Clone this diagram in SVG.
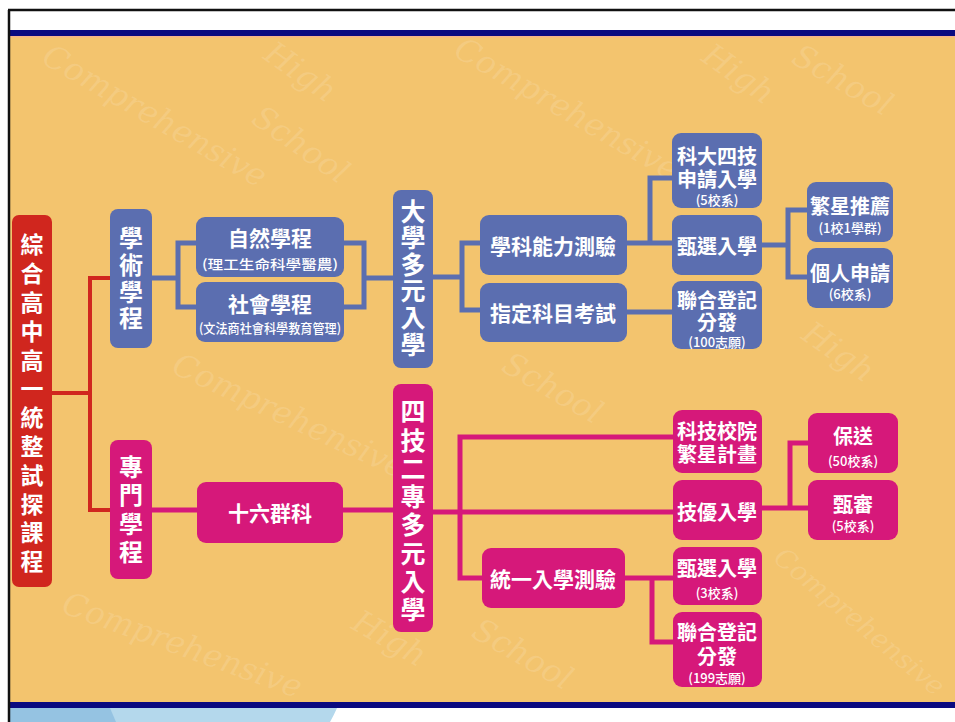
<svg xmlns="http://www.w3.org/2000/svg" width="955" height="722" viewBox="0 0 955 722">
<style>
.b{fill:#5B6EB0}
.m{fill:#D6187A}
.r{fill:#D0261E}
.t{font-family:"Noto Sans CJK TC","Noto Sans CJK SC",sans-serif;fill:#fff;font-weight:700;text-anchor:middle;dominant-baseline:central}
.vt{font-family:"Noto Sans CJK TC","Noto Sans CJK SC",sans-serif;fill:#fff;font-weight:700;text-anchor:middle;writing-mode:vertical-rl}
.h{font-size:21px}
.s{font-size:13px;font-weight:500}
.cb{stroke:#5B6EB0;stroke-width:5;fill:none}
.cm{stroke:#D6187A;stroke-width:5;fill:none}
.cr{stroke:#D0261E;stroke-width:4;fill:none}
.wm{font-family:"DejaVu Serif",serif;font-style:italic;font-size:32px;fill:#fff;fill-opacity:0.13}
</style>
<rect width="955" height="722" fill="#fff"/>
<rect x="10" y="37" width="945" height="665" fill="#F3C46E"/>
<g id="watermark" class="wm">
<text transform="translate(40,62) rotate(30)">Comprehensive</text>
<text transform="translate(262,58) rotate(35)">High</text>
<text transform="translate(250,122) rotate(35)">School</text>
<text transform="translate(452,55) rotate(30)">Comprehensive</text>
<text transform="translate(700,60) rotate(35)">High</text>
<text transform="translate(790,62) rotate(30)">School</text>
<text transform="translate(170,372) rotate(25)">Comprehensive</text>
<text transform="translate(500,370) rotate(30)">School</text>
<text transform="translate(800,338) rotate(35)">High</text>
<text transform="translate(60,612) rotate(20)">Comprehensive</text>
<text transform="translate(350,628) rotate(30)">High</text>
<text transform="translate(470,636) rotate(30)">School</text>
<text transform="translate(772,560) rotate(40)" font-size="27">Comprehensive</text>
</g>
<rect x="10" y="30" width="945" height="6" fill="#0A0A80"/>
<rect x="10" y="36" width="945" height="1.5" fill="#F6B48A"/>
<rect x="10" y="702" width="945" height="6" fill="#0A0A80"/>
<path d="M10,708 H337 Q334,715 330,722 H10 Z" fill="#B4D8EC"/>
<path d="M10,708 H110 Q113,715 116,722 H10 Z" fill="#95C3E2"/>
<path d="M8,10 H955 M9,10 V722" stroke="#111" stroke-width="2.5" fill="none"/>

<g id="connectors">
<path class="cr" d="M52,393 H90 M110,278 H90 V510 H110"/>
<path class="cb" d="M152,278 H178 M196,243 H178 V307 H196"/>
<path class="cb" d="M344,243 H364 V307 H344 M364,278 H393"/>
<path class="cb" d="M433,277 H462 M480,243 H462 V310 H480"/>
<path class="cb" d="M627,243 H672 M672,178 H650 V243"/>
<path class="cb" d="M627,312 H672"/>
<path class="cb" d="M762,245 H788 M807,210 H788 V277 H807"/>
<path class="cm" d="M152,510 H197 M343,510 H393"/>
<path class="cm" d="M433,512 H673 M673,437 H460 V578 H482"/>
<path class="cm" d="M625,578 H673 M652,578 V642 H673"/>
<path class="cm" d="M762,508 H808 M808,443 H790 V508"/>
</g>

<g id="root">
<rect class="r" x="12" y="215" width="40" height="372" rx="7"/>
<text class="vt" x="32" y="406" font-size="23" letter-spacing="5.8">綜合高中高一統整試探課程</text>
</g>

<g id="academic">
<rect class="b" x="110" y="209" width="42" height="139" rx="8"/>
<text class="vt" x="131" y="279.5" font-size="24" letter-spacing="2.7">學術學程</text>
</g>
<g id="natural">
<rect class="b" x="196" y="217" width="148" height="60" rx="9"/>
<text class="t h" x="270" y="237">自然學程</text>
<text class="t s" x="270" y="263" textLength="136" lengthAdjust="spacingAndGlyphs">(理工生命科學醫農)</text>
</g>
<g id="social">
<rect class="b" x="196" y="282" width="148" height="60" rx="9"/>
<text class="t h" x="270" y="303">社會學程</text>
<text class="t s" x="270" y="327" textLength="142" lengthAdjust="spacingAndGlyphs">(文法商社會科學教育管理)</text>
</g>
<g id="univ">
<rect class="b" x="393" y="190" width="40" height="178" rx="8"/>
<text class="vt" x="413" y="278.5" font-size="25" letter-spacing="1.6">大學多元入學</text>
</g>
<g id="gsat">
<rect class="b" x="480" y="215" width="147" height="60" rx="9"/>
<text class="t h" x="553" y="245">學科能力測驗</text>
</g>
<g id="ast">
<rect class="b" x="480" y="283" width="147" height="59" rx="9"/>
<text class="t h" x="553" y="312">指定科目考試</text>
</g>
<g id="tech-apply">
<rect class="b" x="672" y="133" width="90" height="75" rx="9"/>
<text class="t" font-size="20"><tspan x="717" y="155">科大四技</tspan><tspan x="717" y="178">申請入學</tspan></text>
<text class="t s" x="717" y="199">(5校系)</text>
</g>
<g id="select">
<rect class="b" x="672" y="215" width="90" height="60" rx="9"/>
<text class="t" font-size="20" x="717" y="245">甄選入學</text>
</g>
<g id="joint100">
<rect class="b" x="672" y="281" width="90" height="68" rx="9"/>
<text class="t" font-size="20"><tspan x="717" y="299">聯合登記</tspan><tspan x="717" y="321">分發</tspan></text>
<text class="t s" x="717" y="341">(100志願)</text>
</g>
<g id="star">
<rect class="b" x="807" y="182" width="86" height="60" rx="9"/>
<text class="t" font-size="20" x="850" y="205">繁星推薦</text>
<text class="t s" x="850" y="227">(1校1學群)</text>
</g>
<g id="personal">
<rect class="b" x="807" y="248" width="86" height="60" rx="9"/>
<text class="t" font-size="20" x="850" y="272">個人申請</text>
<text class="t s" x="850" y="293">(6校系)</text>
</g>

<g id="vocational">
<rect class="m" x="110" y="440" width="42" height="139" rx="8"/>
<text class="vt" x="131" y="511.5" font-size="24" letter-spacing="4.3">專門學程</text>
</g>
<g id="groups16">
<rect class="m" x="197" y="482" width="146" height="61" rx="9"/>
<text class="t h" x="270" y="512" font-weight="500">十六群科</text>
</g>
<g id="tvc">
<rect class="m" x="393" y="384" width="40" height="248" rx="8"/>
<text class="vt" x="413" y="512.5" font-size="25" letter-spacing="3.3">四技二專多元入學</text>
</g>
<g id="tvc-star">
<rect class="m" x="673" y="410" width="89" height="63" rx="9"/>
<text class="t" font-size="20"><tspan x="717" y="430">科技校院</tspan><tspan x="717" y="453">繁星計畫</tspan></text>
</g>
<g id="skill">
<rect class="m" x="673" y="480" width="89" height="60" rx="9"/>
<text class="t" font-size="20" x="717" y="511">技優入學</text>
</g>
<g id="unified">
<rect class="m" x="482" y="548" width="143" height="60" rx="9"/>
<text class="t h" x="553" y="578">統一入學測驗</text>
</g>
<g id="select3">
<rect class="m" x="673" y="547" width="89" height="58" rx="9"/>
<text class="t" font-size="20" x="717" y="567">甄選入學</text>
<text class="t s" x="717" y="592">(3校系)</text>
</g>
<g id="joint199">
<rect class="m" x="673" y="612" width="89" height="75" rx="9"/>
<text class="t" font-size="20"><tspan x="717" y="631">聯合登記</tspan><tspan x="717" y="655">分發</tspan></text>
<text class="t s" x="717" y="677">(199志願)</text>
</g>
<g id="guarantee">
<rect class="m" x="808" y="413" width="90" height="60" rx="9"/>
<text class="t" font-size="20" x="853" y="435">保送</text>
<text class="t s" x="853" y="460">(50校系)</text>
</g>
<g id="screening">
<rect class="m" x="808" y="480" width="90" height="60" rx="9"/>
<text class="t" font-size="20" x="853" y="503">甄審</text>
<text class="t s" x="853" y="525">(5校系)</text>
</g>
</svg>
